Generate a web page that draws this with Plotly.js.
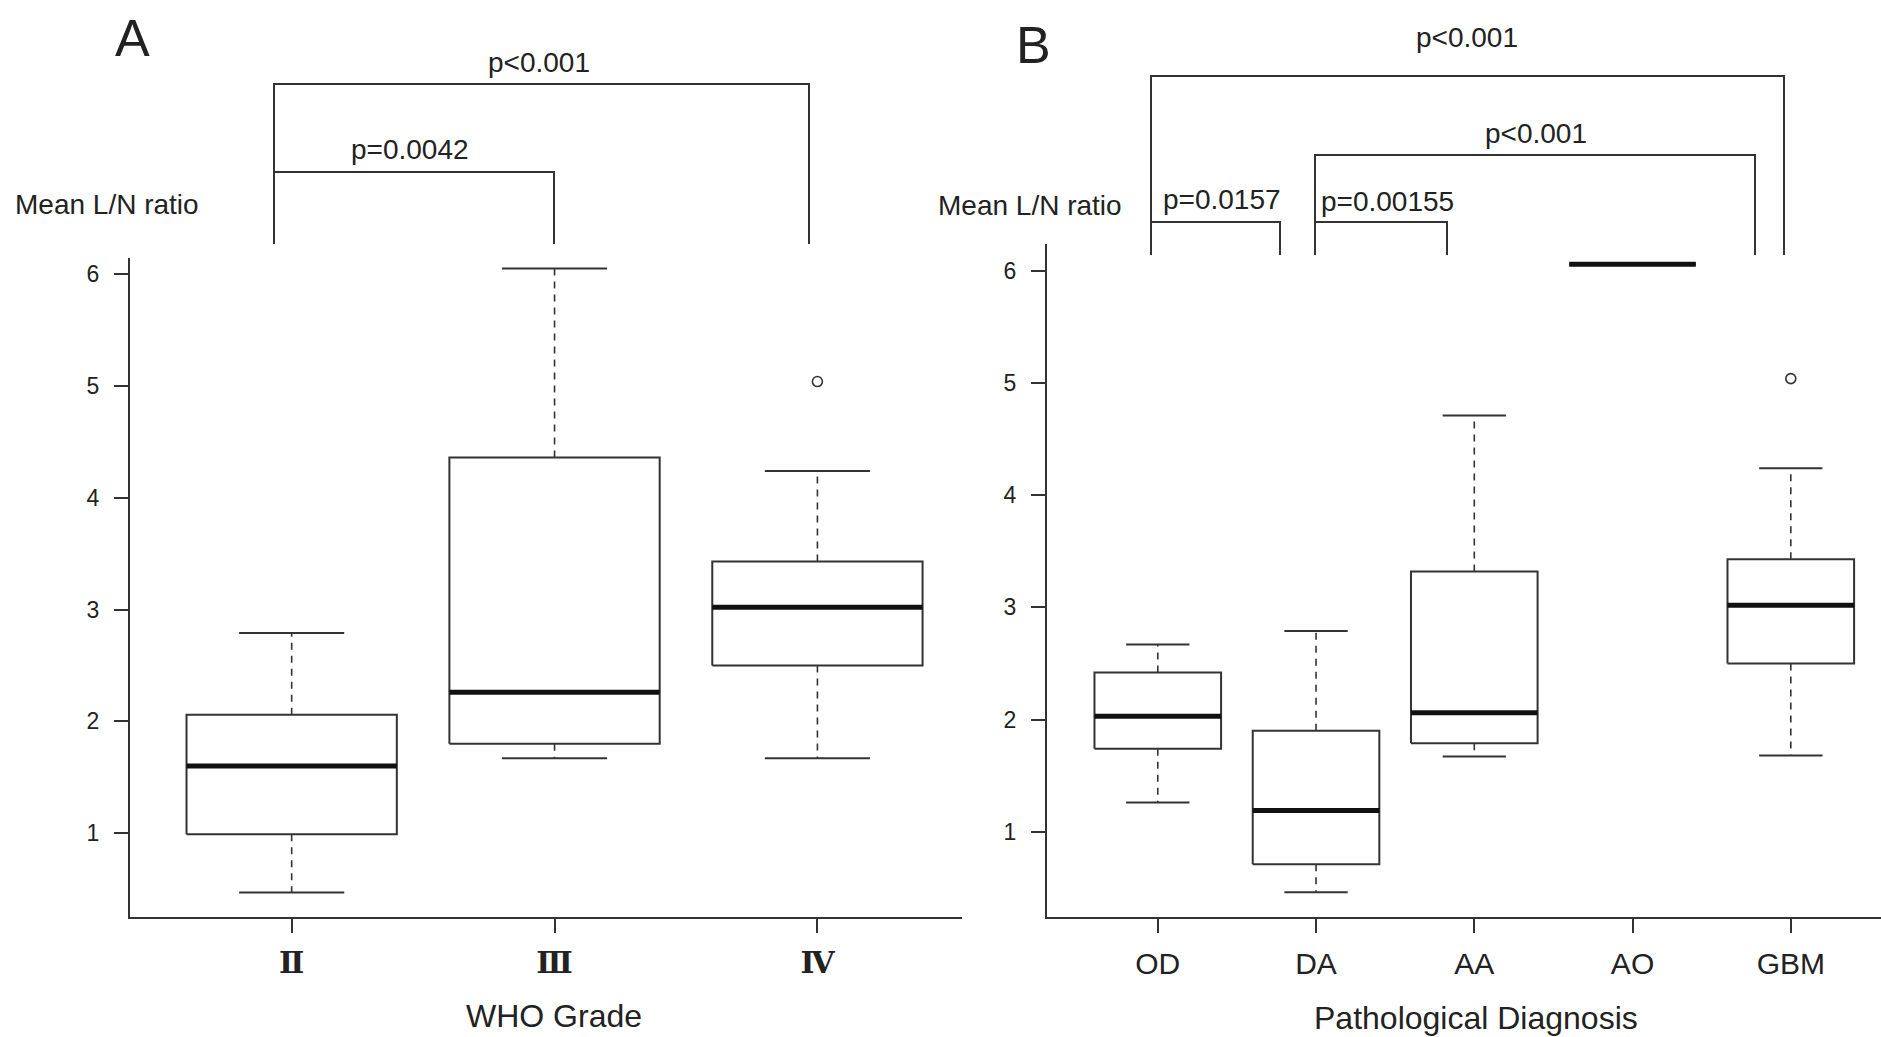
<!DOCTYPE html>
<html>
<head>
<meta charset="utf-8">
<script src="https://cdn.plot.ly/plotly-3.0.1.min.js"></script>
<style>html,body{margin:0;padding:0;background:#fff;}</style>
</head>
<body>
<div id="chart" style="width:1881px;height:1037px;"></div>
<script>
// ---- Data ----
// Panel A: WHO grade
const gradeCats = ['Ⅱ', 'Ⅲ', 'Ⅳ'];
const gradeLow  = [0.47, 1.67, 1.67];
const gradeQ1   = [0.99, 1.80, 2.50];
const gradeMed  = [1.60, 2.26, 3.02];
const gradeQ3   = [2.06, 4.36, 3.43];
const gradeHigh = [2.79, 6.05, 4.24];
const gradeOutCat = ['Ⅳ'];
const gradeOutVal = [5.04];

// Panel B: pathological diagnosis
const diagCats = ['OD', 'DA', 'AA', 'AO', 'GBM'];
const diagLow  = [1.26, 0.46, 1.67, 6.06, 1.68];
const diagQ1   = [1.74, 0.71, 1.79, 6.06, 2.50];
const diagMed  = [2.03, 1.19, 2.06, 6.06, 3.02];
const diagQ3   = [2.42, 1.90, 3.32, 6.06, 3.43];
const diagHigh = [2.67, 2.79, 4.71, 6.06, 4.24];
const diagOutCat = ['GBM'];
const diagOutVal = [5.04];

const yTicks = [1, 2, 3, 4, 5, 6];

// ---- helpers ----
const W = 1881, H = 1037;
const px = x => x / W;
const py = y => 1 - y / H;
const HALF = 0.4, STAPLE = 0.2;
const LINE = '#333';

function boxTraces(cats, low, q1, med, q3, high, outCat, outVal, xa, ya) {
  const bx = [], by = [], mx = [], my = [], wx = [], wy = [], sx = [], sy = [];
  cats.forEach((c, i) => {
    const p = i + 1;
    bx.push(p - HALF, p + HALF, p + HALF, p - HALF, p - HALF, null);
    by.push(q1[i], q1[i], q3[i], q3[i], q1[i], null);
    mx.push(p - HALF, p + HALF, null);
    my.push(med[i], med[i], null);
    wx.push(p, p, null, p, p, null);
    wy.push(q3[i], high[i], null, q1[i], low[i], null);
    sx.push(p - STAPLE, p + STAPLE, null, p - STAPLE, p + STAPLE, null);
    sy.push(high[i], high[i], null, low[i], low[i], null);
  });
  const ox = outCat.map(c => cats.indexOf(c) + 1);
  const common = {type: 'scatter', mode: 'lines', xaxis: xa, yaxis: ya, hoverinfo: 'skip', showlegend: false};
  return [
    Object.assign({}, common, {x: wx, y: wy, line: {color: LINE, width: 1.6, dash: '7px,6px'}}),
    Object.assign({}, common, {x: sx, y: sy, line: {color: LINE, width: 2}}),
    Object.assign({}, common, {x: bx, y: by, line: {color: LINE, width: 2}}),
    Object.assign({}, common, {x: mx, y: my, line: {color: '#111', width: 5}}),
    {type: 'scatter', mode: 'markers', x: ox, y: outVal, xaxis: xa, yaxis: ya, showlegend: false,
     marker: {symbol: 'circle-open', size: 10, color: LINE, line: {width: 1.6, color: LINE}}}
  ];
}

const data = [].concat(
  boxTraces(gradeCats, gradeLow, gradeQ1, gradeMed, gradeQ3, gradeHigh, gradeOutCat, gradeOutVal, 'x', 'y'),
  boxTraces(diagCats, diagLow, diagQ1, diagMed, diagQ3, diagHigh, diagOutCat, diagOutVal, 'x2', 'y2')
);

const sansFont = 'Liberation Sans, Arial, Helvetica, sans-serif';
const axisCommon = {
  showline: true, linecolor: LINE, linewidth: 2,
  ticks: 'outside', ticklen: 14, tickwidth: 2, tickcolor: LINE,
  showgrid: false, zeroline: false, fixedrange: true
};

function bracket(x1, x2, top, bottom) {
  return {type: 'path', xref: 'paper', yref: 'paper',
    path: `M ${px(x1)},${py(bottom)} L ${px(x1)},${py(top)} L ${px(x2)},${py(top)} L ${px(x2)},${py(bottom)}`,
    line: {color: LINE, width: 2}};
}
function label(text, x, y, size) {
  return {text: text, xref: 'paper', yref: 'paper', x: px(x), y: py(y),
    xanchor: 'center', yanchor: 'middle', showarrow: false,
    font: {family: sansFont, size: size || 28, color: '#222'}};
}

const layout = {
  width: W, height: H,
  margin: {l: 0, r: 0, t: 0, b: 0},
  paper_bgcolor: '#fff', plot_bgcolor: '#fff',
  showlegend: false,
  font: {family: sansFont, color: '#222'},
  xaxis: Object.assign({}, axisCommon, {
    domain: [px(130), px(962)], range: [0.385, 3.55], anchor: 'y',
    tickvals: gradeCats.map((c, i) => i + 1), ticktext: gradeCats,
    tickfont: {family: 'DejaVu Serif, serif', size: 30, weight: 'bold', color: '#222'},
    ticklabelstandoff: 4
  }),
  yaxis: Object.assign({}, axisCommon, {
    domain: [py(917), py(258)], range: [0.25, 6.145], anchor: 'x',
    tickvals: yTicks, ticktext: yTicks.map(String),
    tickfont: {family: sansFont, size: 23, color: '#222'},
    ticklabelstandoff: 10
  }),
  xaxis2: Object.assign({}, axisCommon, {
    domain: [px(1047), 1], range: [0.30, 5.57], anchor: 'y2',
    tickvals: diagCats.map((c, i) => i + 1), ticktext: diagCats,
    tickfont: {family: sansFont, size: 30, color: '#222'},
    ticklabelstandoff: 5
  }),
  yaxis2: Object.assign({}, axisCommon, {
    domain: [py(917), py(244)], range: [0.24, 6.24], anchor: 'x2',
    tickvals: yTicks, ticktext: yTicks.map(String),
    tickfont: {family: sansFont, size: 23, color: '#222'},
    ticklabelstandoff: 10
  }),
  shapes: [
    // Panel A brackets
    bracket(274, 809, 84, 244),
    bracket(274, 554, 172, 244),
    // Panel B brackets
    bracket(1151, 1784, 76, 255),
    bracket(1315, 1755, 155, 255),
    bracket(1151, 1280, 222, 255),
    bracket(1315, 1447, 222, 255)
  ],
  annotations: [
    label('A', 132, 38, 52),
    label('B', 1033, 45, 52),
    label('Mean L/N ratio', 107, 204),
    label('Mean L/N ratio', 1030, 206),
    label('p<0.001', 539, 62),
    label('p=0.0042', 410, 149),
    label('p<0.001', 1467, 37),
    label('p<0.001', 1536, 133),
    label('p=0.0157', 1222, 199),
    label('p=0.00155', 1387, 201),
    label('WHO Grade', 554, 1016, 32),
    label('Pathological Diagnosis', 1476, 1018, 32)
  ]
};

Plotly.newPlot('chart', data, layout, {displayModeBar: false, staticPlot: true});
</script>
</body>
</html>
